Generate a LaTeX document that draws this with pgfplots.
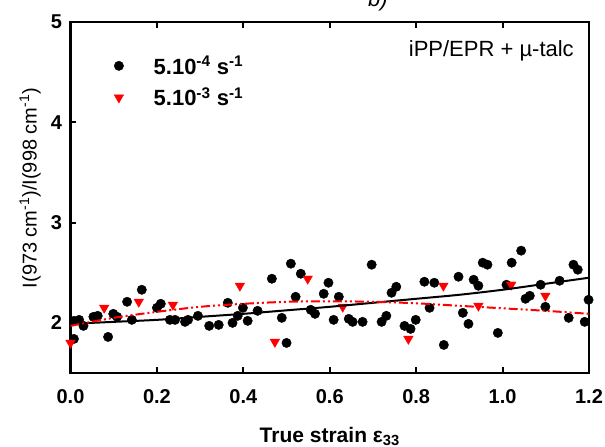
\documentclass[border=0pt]{standalone}
\usepackage{fontspec}
\setmainfont{Liberation Sans}
\usepackage{pgfplots}
\pgfplotsset{compat=1.18}
\begin{document}
\begin{tikzpicture}
\begin{axis}[
  name=ax,
  scale only axis, width=518.5pt, height=351pt,
  xmin=0, xmax=1.2, ymin=1.5, ymax=5,
  xtick={0,0.2,0.4,0.6,0.8,1.0,1.2},
  xticklabels={0.0,0.2,0.4,0.6,0.8,1.0,1.2},
  ytick={2,3,4,5}, yticklabels={2,3,4,5},
  xtick pos=both, xticklabel pos=bottom, ytick pos=left,
  tick align=inside, major tick length=6pt,
  every tick/.style={line width=2pt,black},
  axis line style={line width=2.8pt},
  ticklabel style={font=\fontsize{20}{24}\selectfont\bfseries},
  xticklabel style={yshift=-13pt},
  yticklabel style={xshift=-5pt},
  xlabel={True strain ε\textsubscript{33}},
  xlabel style={font=\fontsize{21}{24}\selectfont\bfseries, at={(axis description cs:0.5,0)}, anchor=base, yshift=-69pt},
  ylabel={I(973 cm\textsuperscript{-1})/I(998 cm\textsuperscript{-1})},
  ylabel style={font=\fontsize{20}{24}\selectfont, at={(axis description cs:-0.078,0.527)}, anchor=center},
  clip mode=individual,
  legend style={at={(axis description cs:0.078,0.915)}, anchor=north west, draw=none, fill=none,
    font=\fontsize{22}{26}\selectfont\bfseries, row sep=8pt, nodes={inner sep=2pt},
    /tikz/every odd column/.append style={column sep=28pt}},
  legend cell align=left,
]
\addplot[only marks, mark=*, mark size=4.7pt, black] coordinates {
(0.008,1.84)(0.008,2.02)(0.02,2.03)(0.03,1.97)(0.053,2.06)(0.063,2.07)(0.087,1.86)(0.099,2.09)(0.108,2.06)(0.131,2.21)(0.142,2.03)(0.165,2.33)(0.2,2.15)(0.209,2.19)(0.23,2.03)(0.242,2.03)(0.265,2.01)(0.272,2.03)(0.295,2.07)(0.321,1.97)(0.343,1.98)(0.364,2.2)(0.375,2.0)(0.387,2.07)(0.399,2.15)(0.41,2.02)(0.433,2.12)(0.466,2.44)(0.489,2.05)(0.5,1.8)(0.51,2.59)(0.521,2.26)(0.533,2.49)(0.556,2.13)(0.566,2.09)(0.586,2.29)(0.597,2.4)(0.609,2.03)(0.621,2.26)(0.644,2.04)(0.653,2.01)(0.676,2.01)(0.697,2.58)(0.72,2.01)(0.731,2.07)(0.743,2.3)(0.754,2.36)(0.773,1.97)(0.787,1.94)(0.799,2.03)(0.819,2.41)(0.831,2.15)(0.842,2.4)(0.864,1.78)(0.898,2.46)(0.908,2.1)(0.921,1.99)(0.933,2.43)(0.944,2.37)(0.954,2.6)(0.965,2.58)(0.989,1.9)(1.009,2.38)(1.021,2.6)(1.043,2.72)(1.053,2.24)(1.063,2.27)(1.088,2.38)(1.099,2.16)(1.132,2.42)(1.153,2.05)(1.164,2.58)(1.174,2.53)(1.199,2.23)(1.19,2.01)
};
\addlegendentry{5.10\textsuperscript{-4} s\textsuperscript{-1}}
\addplot[only marks, mark=triangle*, mark size=5.5pt, red, mark options={rotate=180}] coordinates {
(0.0,1.80)(0.078,2.15)(0.158,2.21)(0.237,2.18)(0.392,2.37)(0.473,1.81)(0.549,2.44)(0.63,2.16)(0.782,1.84)(0.863,2.37)(0.944,2.17)(1.02,2.38)(1.099,2.27)
};
\addlegendentry{5.10\textsuperscript{-3} s\textsuperscript{-1}}
\addplot[black, line width=2pt, smooth, forget plot] coordinates {
(0,1.99)(0.1,2.01)(0.2,2.03)(0.3,2.06)(0.4,2.09)(0.5,2.125)(0.6,2.16)(0.7,2.2)(0.8,2.24)(0.9,2.28)(1.0,2.33)(1.1,2.39)(1.2,2.45)
};
\addplot[red, line width=2pt, smooth, forget plot, dash pattern=on 9pt off 3pt on 2pt off 3pt on 2pt off 3pt] coordinates {
(0,1.97)(0.1,2.05)(0.2,2.11)(0.3,2.16)(0.4,2.19)(0.5,2.21)(0.6,2.215)(0.7,2.21)(0.8,2.195)(0.9,2.17)(1.0,2.145)(1.1,2.12)(1.2,2.09)
};
\node[anchor=base east, inner sep=0pt, font=\fontsize{22}{26}\selectfont] at (rel axis cs:0.971,0.903) {iPP/EPR + µ-talc};
\node[anchor=base, inner sep=0pt, font=\fontsize{22}{26}\selectfont\itshape] at (rel axis cs:0.593,1.045) {b)};
\end{axis}
\pgfresetboundingbox
\useasboundingbox ([xshift=-70.5pt,yshift=-74pt]ax.south west) rectangle ([xshift=16pt,yshift=22pt]ax.north east);
\end{tikzpicture}
\end{document}
